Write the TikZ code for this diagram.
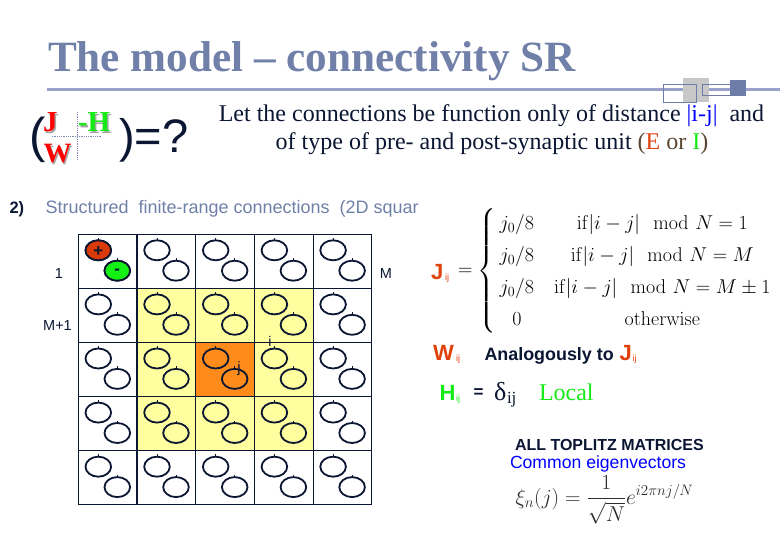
\documentclass[tikz,border=0pt]{standalone}
\usepackage{fix-cm}
\usepackage{amsmath}
\usepackage[no-math]{fontspec}
\setmainfont{Liberation Serif}
\setsansfont{Liberation Sans}
\definecolor{titleblue}{RGB}{112,128,168}
\definecolor{rulecol}{RGB}{154,162,204}
\definecolor{ink}{RGB}{10,22,50}
\definecolor{ered}{RGB}{224,64,10}
\definecolor{bgreen}{RGB}{20,235,20}
\definecolor{pureblue}{RGB}{0,0,255}
\definecolor{yell}{RGB}{255,255,160}
\definecolor{orng}{RGB}{255,140,26}
\definecolor{cred}{RGB}{218,58,8}
\definecolor{cgreen}{RGB}{20,240,20}
\definecolor{dotcol}{RGB}{128,140,180}
\definecolor{decgray}{RGB}{200,200,200}
\definecolor{decblue}{RGB}{110,124,168}
\definecolor{mathgray}{RGB}{45,45,45}
\definecolor{parbrown}{RGB}{90,70,50}
\newcommand{\fsz}[1]{\fontsize{#1}{#1}\selectfont}
\tikzset{
  lab/.style={inner sep=0pt, outer sep=0pt},
  circ/.style={draw=ink, line width=1.8pt},
  gridline/.style={draw=ink, line width=1.2pt},
}
\begin{document}
\begin{tikzpicture}[x=1pt,y=-1pt]
\useasboundingbox (0,0) rectangle (780,540);
\fill[white] (0,0) rectangle (780,540);

% title and rule
\node[lab, anchor=base west, text=titleblue, font=\bfseries\fsz{43.2}] (title) at (48,72) {The model – connectivity SR};
\draw[rulecol, line width=3pt] (47,89.5) -- (780,89.5);
\fill[decgray] (683.3,78.3) rectangle (709.3,101.7);
\draw[decblue, line width=1pt] (663.3,84.3) rectangle (696.7,102.3);
\draw[decblue, line width=1pt] (702.3,84.3) rectangle (741.7,96);
\fill[decblue] (730,80) rectangle (745.7,96);

% (J -H / W) = ?
\draw[dotcol, densely dotted, line width=0.8pt] (77.3,112) -- (77.3,160);
\draw[dotcol, densely dotted, line width=0.8pt] (51.7,136.7) -- (101.7,136.7);
\node[lab, anchor=base west, text=ink, font=\sffamily\fsz{49}] (lpar) at (30,153) {(};
\node[lab, anchor=base west, text=gray!70, font=\bfseries\fsz{29}] (Jsh) at (44.5,133.5) {J};
\node[lab, anchor=base west, text=red, font=\bfseries\fsz{29}] (Jm) at (43,132) {J};
\node[lab, anchor=base west, text=gray!70, font=\bfseries\fsz{29}] (Hsh) at (79.5,133.5) {-H};
\node[lab, anchor=base west, text=bgreen, font=\bfseries\fsz{29}] (Hm) at (78,132) {-H};
\node[lab, anchor=base west, text=gray!70, font=\bfseries\fsz{28}] (Wsh) at (45,164.5) {W};
\node[lab, anchor=base west, text=red, font=\bfseries\fsz{28}] (Wm) at (43.5,163) {W};
\node[lab, anchor=base west, text=ink, font=\sffamily\fsz{47}] (rpar) at (119,153) {)=?};

% description text
\node[lab, anchor=base, text=ink, font=\fsz{24}] (line1) at (491.5,121.7)
  {Let the connections be function only of distance \textcolor{pureblue}{|i-j|}\ \ and};
\node[lab, anchor=base, text=ink, font=\fsz{24}] (line2) at (492,150)
  {of type of pre- and post-synaptic unit \textcolor{parbrown}{(}\textcolor{ered}{E}\textcolor{parbrown}{\ or\ }\textcolor{bgreen}{I}\textcolor{parbrown}{)}};

% section header
\node[lab, anchor=base west, text=ink, font=\sffamily\bfseries\fsz{16.5}] (sec) at (9.5,214) {2)};
\node[lab, anchor=base west, text=titleblue, font=\sffamily\fsz{18}] (sectext) at (45.5,213.5) {Structured\ \ finite-range connections\ \ (2D squar};

% grid
\def\gx{78.3}\def\gy{234.3}\def\cw{58.7}\def\ch{54.1}
\fill[yell] (\gx+\cw,\gy+\ch) rectangle ++(3*\cw,3*\ch);
\fill[orng] (\gx+2*\cw,\gy+2*\ch) rectangle ++(\cw,\ch);
\foreach \i in {0,...,5}{
  \draw[gridline] (\gx+\i*\cw,\gy) -- (\gx+\i*\cw,\gy+5*\ch);
  \draw[gridline] (\gx,\gy+\i*\ch) -- (\gx+5*\cw,\gy+\i*\ch);
}
\foreach \r in {0,...,4}{
  \foreach \c in {0,...,4}{
    \pgfmathsetmacro{\ax}{\gx+\c*\cw+20}
    \pgfmathsetmacro{\ay}{\gy+\r*\ch+16}
    \pgfmathsetmacro{\bx}{\gx+\c*\cw+39}
    \pgfmathsetmacro{\by}{\gy+\r*\ch+36.4}
    \draw[circ] (\ax,\ay) ellipse [x radius=12.8pt, y radius=10pt];
    \draw[circ] (\bx,\by) ellipse [x radius=12.8pt, y radius=10pt];
    \draw[ink, line width=0.9pt] (\ax,\ay-12.5) -- (\ax,\ay-10);
    \draw[ink, line width=0.9pt] (\bx,\by-12.5) -- (\bx,\by-10);
  }
}
\fill[cred, draw=ink, line width=1.8pt] (98.3,250.3) ellipse [x radius=12.8pt, y radius=10pt];
\fill[cgreen, draw=ink, line width=1.8pt] (117.3,270.7) ellipse [x radius=12.8pt, y radius=10pt];
\node[lab, text=ink, font=\sffamily\bfseries\fsz{17}] (plus) at (98.3,251.5) {+};
\node[lab, text=ink, font=\sffamily\bfseries\fsz{17}] (minus) at (117.3,271.5) {-};
\node[lab, anchor=base, text=ink, font=\sffamily\fsz{14}] (i) at (270,347) {i};
\node[lab, anchor=base, text=ink, font=\sffamily\fsz{15}] (j) at (239,373) {j};

% grid labels
\node[lab, text=ink, font=\sffamily\fsz{14.5}] (one) at (59,274) {1};
\node[lab, text=ink, font=\sffamily\fsz{14.5}] (Mp1) at (57.5,326) {M+1};
\node[lab, text=ink, font=\sffamily\fsz{14.5}] (M) at (386,274) {M};

% J_ij equation
\node[lab, anchor=base west, text=ered, font=\sffamily\bfseries\fsz{22}] (Jij) at (431,280) {J};
\node[lab, anchor=base west, text=ered, font=\sffamily\fsz{9}] (Jijs) at (445,280.5) {ij};
\node[lab, anchor=west, font=\fsz{20}] (jeq) at (458,271)
  {$=\left\{\renewcommand\arraystretch{1.6}\begin{array}{@{\,}c@{\quad}c@{}}
    j_0/8 & \mathrm{if}|i-j| \mod N=1\\
    j_0/8 & \mathrm{if}|i-j| \mod N=M\\
    j_0/8 & \mathrm{if}|i-j| \mod N=M\pm1\\
    0 & \mathrm{otherwise}
  \end{array}\right.$};

% W_ij
\node[lab, anchor=base west, text=ered, font=\sffamily\bfseries\fsz{22}] (Wij) at (433,360.7) {W};
\node[lab, anchor=base west, text=ered, font=\sffamily\fsz{9}] (Wijs) at (456,361.5) {ij};
\node[lab, anchor=base west, text=ink, font=\sffamily\bfseries\fsz{17.9}] (analog) at (484.5,360.7) {Analogously to};
\node[lab, anchor=base west, text=ered, font=\sffamily\bfseries\fsz{22}] (Jij2) at (619.5,360.7) {J};
\node[lab, anchor=base west, text=ered, font=\sffamily\fsz{9}] (Jij2s) at (632.5,361.5) {ij};

% H_ij
\node[lab, anchor=base west, text=bgreen, font=\sffamily\bfseries\fsz{22}] (Hij) at (439.5,400.7) {H};
\node[lab, anchor=base west, text=bgreen, font=\sffamily\fsz{9}] (Hijs) at (456,401.5) {ij};
\node[lab, anchor=base west, text=ink, font=\sffamily\bfseries\fsz{17}] (Heq) at (473.5,398) {=};
\node[lab, anchor=base west, text=ink, font=\fsz{26}] (delta) at (494,400) {δ};
\node[lab, anchor=base west, text=ink, font=\fsz{17}] (deltas) at (507,403) {ij};
\node[lab, anchor=base west, text=bgreen, font=\fsz{24}] (local) at (539,400) {Local};

% bottom
\node[lab, anchor=base west, text=ink, font=\sffamily\bfseries\fsz{16}] (toplitz) at (515,450) {ALL TOPLITZ MATRICES};
\node[lab, anchor=base west, text=pureblue, font=\sffamily\fsz{17.6}] (eigen) at (510,468.3) {Common eigenvectors};
\node[lab, anchor=center, text=mathgray, font=\fsz{21.5}] (xi) at (604.5,500) {$\displaystyle \xi_n(j)=\frac{1}{\sqrt{N}}e^{i2\pi nj/N}$};
\end{tikzpicture}
\end{document}
